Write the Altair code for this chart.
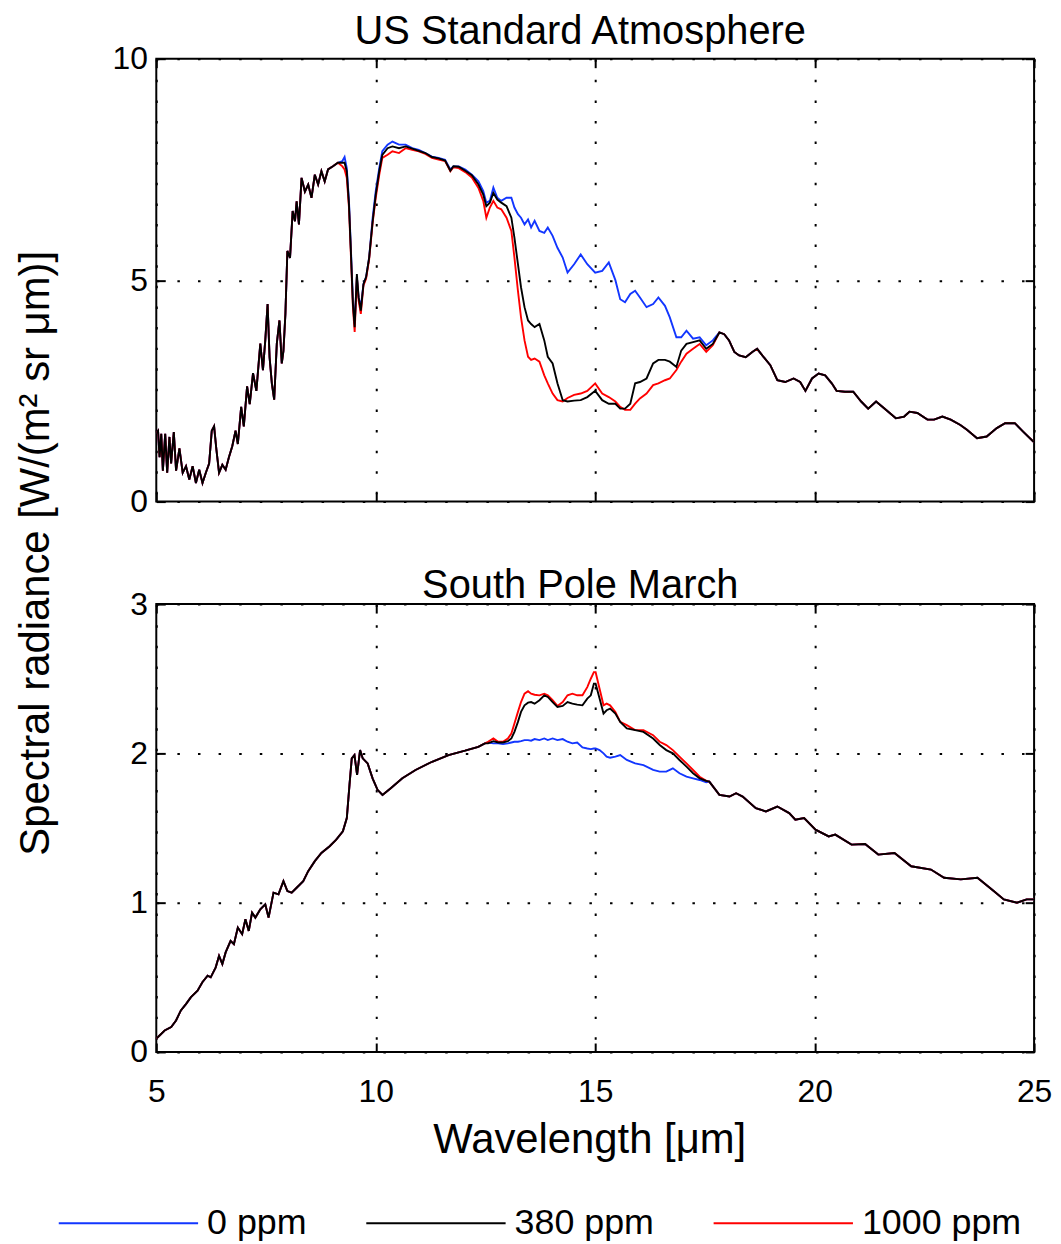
import altair as alt
import pandas as pd

SERIES = ["0 ppm", "380 ppm", "1000 ppm"]
COLORS = ["#1236ff", "#000000", "#ff0000"]
X_TICKS = [5, 10, 15, 20, 25]
TOP_Y_TICKS = [0, 5, 10]
BOT_Y_TICKS = [0, 1, 2, 3]
TOP_TITLE = "US Standard Atmosphere"
BOT_TITLE = "South Pole March"
X_TITLE = "Wavelength [\u03bcm]"
Y_TITLE = "Spectral radiance [W/(m\u00b2 sr \u03bcm)]"

# ---------------- US Standard Atmosphere ----------------
TOP_HEAD_WL = [5.0, 5.04, 5.075, 5.113, 5.15, 5.203, 5.248, 5.3, 5.338, 5.399, 5.451, 5.527,
               5.602, 5.677, 5.752, 5.828, 5.903, 5.978, 6.053, 6.129, 6.204, 6.264, 6.317,
               6.37, 6.43, 6.505, 6.58, 6.655, 6.731, 6.806, 6.858, 6.934, 6.994, 7.069,
               7.129, 7.204, 7.28, 7.37, 7.43, 7.483, 7.536, 7.581, 7.633, 7.686, 7.746,
               7.806, 7.859, 7.897, 7.942, 7.987, 8.047, 8.107, 8.16, 8.198, 8.25, 8.31,
               8.386, 8.461, 8.536, 8.612, 8.687, 8.762, 8.837, 8.913, 9.025, 9.138]
TOP_HEAD = [1.55, 1.60, 1.0, 1.53, 0.7, 1.53, 0.65, 1.46, 0.86, 1.57, 0.7, 1.2,
            0.65, 0.8, 0.5, 0.8, 0.42, 0.72, 0.42, 0.65, 0.86, 1.6, 1.7,
            1.17, 0.65, 0.83, 0.72, 1.0, 1.25, 1.6, 1.3, 2.14, 1.7, 2.6,
            2.2, 2.9, 2.5, 3.57, 2.97, 3.64, 4.46, 3.26, 2.67, 2.3, 3.57,
            4.09, 3.12, 3.4, 4.24, 5.66, 5.5, 6.56, 6.33, 6.78, 6.26, 7.31,
            7.0, 7.16, 6.86, 7.38, 7.16, 7.46, 7.23, 7.5, 7.57, 7.65]

TOP_MID_WL = [9.24, 9.29, 9.34, 9.39, 9.43, 9.48, 9.52, 9.57, 9.61, 9.66, 9.72, 9.78,
              9.85, 9.93, 10.0, 10.08, 10.15, 10.27, 10.38, 10.53, 10.68, 10.83, 10.98,
              11.13, 11.28, 11.43, 11.58, 11.7, 11.77, 11.89, 12.04, 12.19, 12.34, 12.45,
              12.52, 12.6, 12.68, 12.77, 12.86, 12.98, 13.09, 13.16, 13.24, 13.31, 13.39,
              13.47, 13.54, 13.62, 13.73, 13.84, 13.92, 14.03, 14.14, 14.26, 14.37, 14.52,
              14.67, 14.82, 15.0, 15.16, 15.31, 15.46, 15.57, 15.68, 15.8, 15.91, 16.02,
              16.17, 16.32, 16.44, 16.59, 16.7, 16.85, 16.96, 17.08, 17.23, 17.38, 17.53,
              17.68]
TOP_MID_0 = [7.69, 7.78, 7.53, 6.79, 5.81, 4.54, 4.01, 5.07, 4.61, 4.39, 4.91, 5.07,
             5.51, 6.41, 7.01, 7.53, 7.91, 8.06, 8.13, 8.06, 8.06, 7.98, 7.94,
             7.87, 7.79, 7.76, 7.72, 7.5, 7.57, 7.57, 7.5, 7.38, 7.23, 7.01,
             6.75, 6.79, 7.09, 6.86, 6.79, 6.86, 6.86, 6.64, 6.49, 6.41, 6.26,
             6.37, 6.19, 6.34, 6.11, 6.07, 6.19, 6.0, 5.73, 5.51, 5.17, 5.36,
             5.58, 5.36, 5.17, 5.21, 5.4, 5.0, 4.57, 4.5, 4.69, 4.76, 4.61,
             4.39, 4.46, 4.61, 4.42, 4.16, 3.71, 3.71, 3.86, 3.68, 3.71, 3.53,
             3.64]
TOP_MID_380 = [7.65, 7.65, 7.46, 6.71, 5.74, 4.46, 3.94, 5.14, 4.61, 4.31, 4.91, 5.07,
               5.51, 6.33, 6.93, 7.46, 7.83, 7.98, 8.02, 7.98, 8.02, 7.97, 7.92,
               7.87, 7.78, 7.75, 7.7, 7.47, 7.57, 7.56, 7.47, 7.37, 7.16, 6.93,
               6.67, 6.75, 6.97, 6.82, 6.75, 6.67, 6.41, 5.96, 5.36, 4.84, 4.39,
               4.09, 4.01, 3.94, 4.01, 3.64, 3.27, 3.12, 2.67, 2.29, 2.26, 2.28,
               2.29, 2.36, 2.5, 2.29, 2.21, 2.21, 2.1, 2.1, 2.21, 2.67, 2.7,
               2.78, 3.12, 3.2, 3.2, 3.16, 3.04, 3.41, 3.56, 3.6, 3.64, 3.45,
               3.56]
TOP_MID_1000 = [7.57, 7.5, 7.31, 6.64, 5.66, 4.39, 3.83, 5.07, 4.54, 4.24, 4.88, 5.03,
                5.47, 6.3, 6.86, 7.38, 7.76, 7.83, 7.91, 7.87, 7.98, 7.94, 7.91,
                7.85, 7.76, 7.72, 7.69, 7.46, 7.55, 7.53, 7.44, 7.32, 7.08, 6.79,
                6.41, 6.64, 6.79, 6.64, 6.6, 6.41, 6.11, 5.51, 4.76, 4.16, 3.64,
                3.27, 3.2, 3.23, 3.16, 2.85, 2.67, 2.44, 2.29, 2.26, 2.34, 2.41,
                2.44, 2.5, 2.67, 2.44, 2.36, 2.26, 2.14, 2.07, 2.07, 2.21, 2.33,
                2.44, 2.63, 2.67, 2.74, 2.78, 2.97, 3.16, 3.34, 3.45, 3.56, 3.38,
                3.53]

TOP_TAIL_WL = [17.83, 17.94, 18.05, 18.17, 18.28, 18.43, 18.58, 18.69, 18.84, 18.99,
               19.15, 19.33, 19.52, 19.67, 19.79, 19.94, 20.09, 20.24, 20.39, 20.5,
               20.69, 20.88, 21.06, 21.22, 21.4, 21.59, 21.85, 22.04, 22.16, 22.34,
               22.57, 22.72, 22.91, 23.1, 23.32, 23.47, 23.7, 23.92, 24.15, 24.34,
               24.56, 24.75, 24.98, 25.0]
TOP_TAIL = [3.82, 3.78, 3.64, 3.38, 3.3, 3.26, 3.38, 3.45, 3.26, 3.08,
            2.74, 2.7, 2.78, 2.7, 2.5, 2.78, 2.89, 2.85, 2.67, 2.5,
            2.48, 2.48, 2.26, 2.1, 2.26, 2.1, 1.88, 1.92, 2.03, 2.0,
            1.85, 1.85, 1.92, 1.85, 1.73, 1.62, 1.43, 1.47, 1.66, 1.77,
            1.77, 1.58, 1.36, 1.35]

# ---------------- South Pole March ----------------
BOT_HEAD_WL = [5.0, 5.04, 5.19, 5.34, 5.45, 5.56, 5.68, 5.79, 5.94, 6.05, 6.17, 6.24,
               6.354, 6.43, 6.505, 6.58, 6.693, 6.768, 6.858, 6.956, 7.031, 7.107,
               7.182, 7.257, 7.37, 7.483, 7.558, 7.671, 7.784, 7.897, 7.987, 8.085,
               8.198, 8.348, 8.461, 8.612, 8.762, 8.95, 9.1, 9.251, 9.341, 9.402,
               9.454, 9.515, 9.575, 9.643, 9.703, 9.816, 9.928, 10.041, 10.154,
               10.342, 10.606, 10.907, 11.283, 11.659, 12.035, 12.336, 12.487]
BOT_HEAD = [0.09, 0.1, 0.144, 0.167, 0.211, 0.278, 0.322, 0.367, 0.411, 0.467, 0.511, 0.5,
            0.567, 0.644, 0.589, 0.667, 0.744, 0.722, 0.833, 0.789, 0.889, 0.811,
            0.933, 0.9, 0.956, 0.989, 0.9, 1.067, 1.056, 1.144, 1.078, 1.067,
            1.1, 1.144, 1.211, 1.278, 1.333, 1.378, 1.422, 1.478, 1.567, 1.789,
            1.967, 1.989, 1.856, 2.022, 1.967, 1.933, 1.833, 1.756, 1.722,
            1.767, 1.833, 1.889, 1.944, 1.989, 2.018, 2.044, 2.067]

BOT_MID_WL = [12.56, 12.68, 12.79, 12.9, 13.01, 13.09, 13.16, 13.24, 13.31, 13.39, 13.47,
              13.54, 13.62, 13.73, 13.84, 13.92, 14.03, 14.14, 14.26, 14.37, 14.48, 14.59,
              14.71, 14.82, 14.9, 14.97, 15.01, 15.1, 15.19, 15.26, 15.34, 15.46, 15.57,
              15.72, 15.91, 16.1, 16.32, 16.47, 16.62, 16.77, 16.92, 17.08, 17.23, 17.38,
              17.53]
BOT_MID_0 = [2.073, 2.067, 2.067, 2.062, 2.067, 2.073, 2.078, 2.078, 2.082, 2.089, 2.089,
             2.085, 2.096, 2.089, 2.1, 2.089, 2.1, 2.089, 2.096, 2.078, 2.067, 2.073,
             2.04, 2.033, 2.029, 2.033, 2.033, 2.022, 2.0, 1.978, 1.971, 1.978, 1.989,
             1.956, 1.933, 1.922, 1.889, 1.878, 1.878, 1.9, 1.867, 1.844, 1.833, 1.822,
             1.807]
BOT_MID_380 = [2.067, 2.082, 2.073, 2.073, 2.082, 2.1, 2.144, 2.211, 2.278, 2.322, 2.34,
               2.344, 2.333, 2.356, 2.389, 2.378, 2.344, 2.311, 2.318, 2.344, 2.333, 2.327,
               2.322, 2.367, 2.389, 2.467, 2.467, 2.367, 2.267, 2.289, 2.3, 2.267, 2.211,
               2.167, 2.156, 2.144, 2.1, 2.056, 2.022, 2.0, 1.956, 1.911, 1.867, 1.833,
               1.816]
BOT_MID_1000 = [2.078, 2.1, 2.078, 2.078, 2.1, 2.133, 2.2, 2.278, 2.344, 2.4, 2.416,
                2.4, 2.393, 2.389, 2.4, 2.389, 2.356, 2.318, 2.344, 2.389, 2.4, 2.389,
                2.389, 2.444, 2.5, 2.544, 2.544, 2.433, 2.322, 2.333, 2.322, 2.278, 2.211,
                2.189, 2.156, 2.156, 2.122, 2.078, 2.056, 2.022, 1.978, 1.933, 1.889, 1.844,
                1.816]

BOT_TAIL_WL = [17.6, 17.83, 18.06, 18.21, 18.36, 18.66, 18.89, 19.15, 19.42, 19.56, 19.76,
               20.02, 20.32, 20.47, 20.84, 21.15, 21.45, 21.82, 22.2, 22.65, 22.95, 23.33,
               23.71, 24.08, 24.31, 24.61, 24.83, 25.0]
BOT_TAIL = [1.811, 1.722, 1.711, 1.733, 1.711, 1.633, 1.611, 1.644, 1.6, 1.556, 1.567,
            1.489, 1.444, 1.456, 1.389, 1.393, 1.322, 1.333, 1.244, 1.222, 1.167, 1.156,
            1.167, 1.078, 1.022, 1.0, 1.022, 1.022]


def panel_df(head_wl, head_v, mid_wl, mids, tail_wl, tail_v):
    rows = []
    for name, mv in zip(SERIES, mids):
        wls = head_wl + mid_wl + tail_wl
        vals = head_v + mv + tail_v
        for i, (w, v) in enumerate(zip(wls, vals)):
            rows.append({"wl": w, "val": v, "series": name, "order": i})
    return pd.DataFrame(rows)


top_df = panel_df(TOP_HEAD_WL, TOP_HEAD, TOP_MID_WL, [TOP_MID_0, TOP_MID_380, TOP_MID_1000],
                  TOP_TAIL_WL, TOP_TAIL)
bot_df = panel_df(BOT_HEAD_WL, BOT_HEAD, BOT_MID_WL, [BOT_MID_0, BOT_MID_380, BOT_MID_1000],
                  BOT_TAIL_WL, BOT_TAIL)

FONT = "Liberation Sans"
LEGEND = alt.Legend(orient="none", legendX=-101, legendY=1152, direction="horizontal", title=None,
                    symbolType="M-5,0H5", symbolSize=28 * 28, symbolStrokeWidth=2,
                    symbolOffset=55, labelFontSize=36, labelFont=FONT, labelColor="black",
                    labelOffset=61, columnPadding=55, labelLimit=400)
GRID_DASH = [2.5, 18.2]
PLOT_W = 882


def panel(df, yticks, ymax, title, title_offset, height, bottom):
    xs = alt.Scale(domain=[5, 25], nice=False, zero=False)
    ys = alt.Scale(domain=[0, ymax], nice=False, zero=False)
    color = alt.Color("series:N", scale=alt.Scale(domain=SERIES, range=COLORS), legend=LEGEND,
                      sort=SERIES)
    base = alt.Chart(df).mark_line(strokeWidth=1.9, clip=True)

    grid_x = alt.Axis(orient="bottom", values=X_TICKS, grid=True, labels=False, ticks=False,
                      domain=False, title=None, gridDash=GRID_DASH, gridColor="black",
                      gridWidth=2, gridOpacity=1)
    grid_y = alt.Axis(orient="left", values=yticks, grid=True, labels=False, ticks=False,
                      domain=False, title=None, gridDash=GRID_DASH, gridColor="black",
                      gridWidth=2, gridOpacity=1)
    if bottom:
        lab_x = alt.Axis(orient="bottom", values=X_TICKS, grid=False, labels=True, ticks=True,
                         tickSize=9, offset=-9, labelPadding=25, domain=False, title=X_TITLE,
                         titlePadding=12, titleX=PLOT_W / 2 - 6, titleAlign="center",
                         labelFlush=False, labelOverlap=False, format="d")
    else:
        lab_x = alt.Axis(orient="bottom", values=X_TICKS, grid=False, labels=False, ticks=True,
                         tickSize=9, offset=-9, domain=False, title=None)
    lab_y = alt.Axis(orient="left", values=yticks, grid=False, labels=True, ticks=True,
                     tickSize=9, offset=-9, labelPadding=9, domain=False, title=None,
                     labelOverlap=False, format="d", labelFlush=False)
    top_x = alt.Axis(orient="top", values=X_TICKS, grid=False, labels=False, ticks=True,
                     tickSize=9, offset=-9, domain=False, title=None)
    right_y = alt.Axis(orient="right", values=yticks, grid=False, labels=False, ticks=True,
                       tickSize=9, offset=-9, domain=False, title=None)

    enc = dict(color=color, order="order:Q")
    blue = base.transform_filter(alt.datum.series == SERIES[0]).encode(
        x=alt.X("wl:Q", scale=xs, axis=grid_x), y=alt.Y("val:Q", scale=ys, axis=grid_y), **enc)
    red = base.transform_filter(alt.datum.series == SERIES[2]).encode(
        x=alt.X("wl:Q", scale=xs, axis=lab_x), y=alt.Y("val:Q", scale=ys, axis=lab_y), **enc)
    black = base.transform_filter(alt.datum.series == SERIES[1]).encode(
        x=alt.X("wl:Q", scale=xs, axis=top_x), y=alt.Y("val:Q", scale=ys, axis=right_y), **enc)

    return alt.layer(blue, red, black).resolve_axis(x="independent", y="independent").properties(
        width=PLOT_W, height=height,
        title=alt.TitleParams(title, fontSize=40, font=FONT, fontWeight="normal", color="black",
                              offset=title_offset, anchor="middle", dx=-15))


top = panel(top_df, TOP_Y_TICKS, 10, TOP_TITLE, -9, 445, False)
bot = panel(bot_df, BOT_Y_TICKS, 3, BOT_TITLE, -18, 450, True)

chart = alt.vconcat(top, bot, spacing=103, bounds="flush").resolve_scale(
    color="shared").resolve_legend(color="shared").properties(
    title=alt.TitleParams(Y_TITLE, orient="left", anchor="middle", frame="bounds", fontSize=42,
                          font=FONT, fontWeight="normal", color="black", offset=-2, dx=73),
    padding={"left": 6, "top": 0, "right": 0, "bottom": 0}
).configure_view(stroke="black", strokeWidth=2).configure_axis(
    labelFont=FONT, labelFontSize=32, labelColor="black", titleFont=FONT, titleFontSize=42,
    titleFontWeight="normal", titleColor="black", tickColor="black", tickWidth=2)

chart.save("out.html", embed_options={"renderer": "svg", "actions": False})
